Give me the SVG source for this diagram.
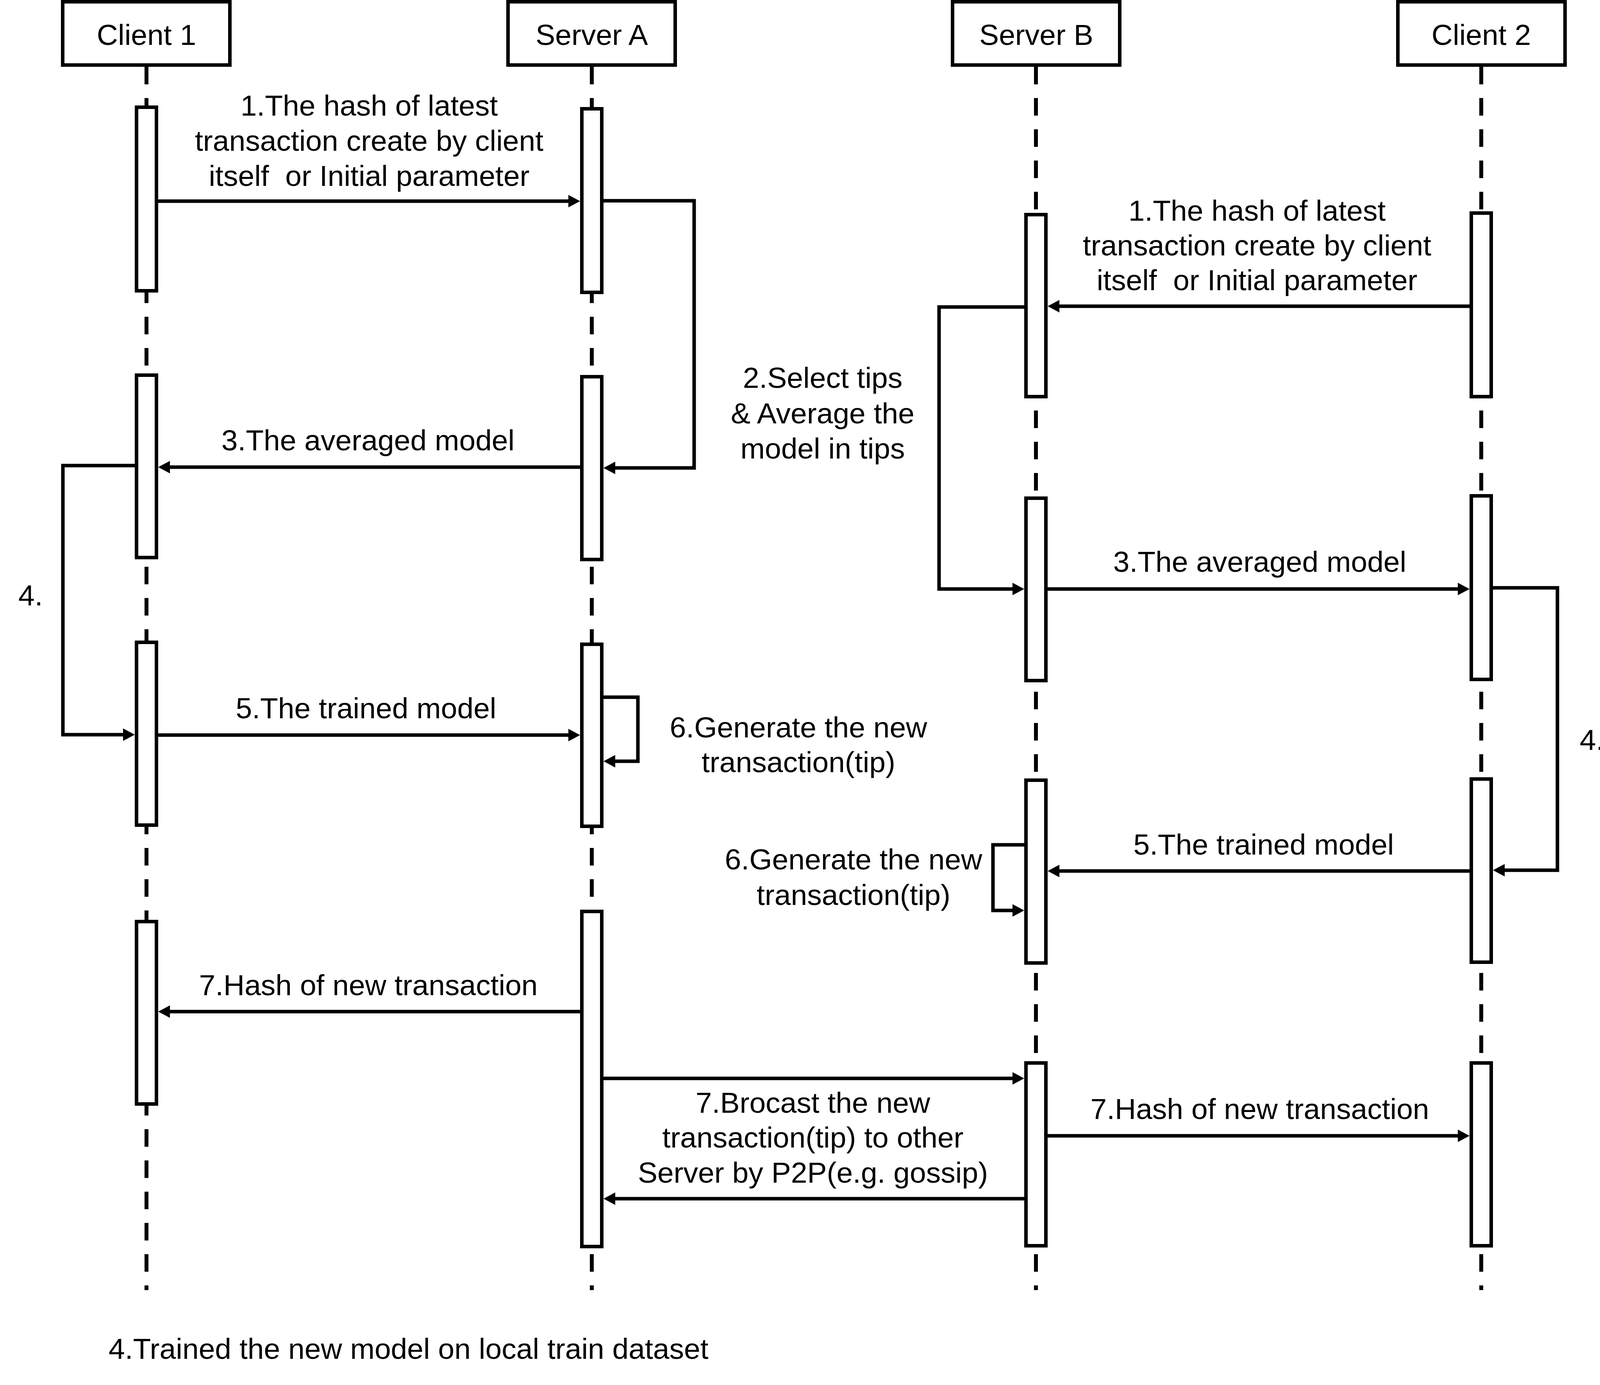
<svg xmlns="http://www.w3.org/2000/svg" width="4152" height="3546" viewBox="0 0 4152 3546">
<style>
.bg{fill:#fff}
.hd{fill:#fff;stroke:#000;stroke-width:9}
.act{fill:#fff;stroke:#000;stroke-width:9}
.life{stroke:#000;stroke-width:10;stroke-dasharray:45 35;fill:none}
.con{fill:none;stroke:#000;stroke-width:9;stroke-linejoin:miter;marker-end:url(#arr)}
.t{font-family:"Liberation Sans",Arial,sans-serif;font-size:75px;fill:#000;text-anchor:middle;white-space:pre}
.ts{text-anchor:start}
</style>
<defs>
<marker id="arr" markerUnits="userSpaceOnUse" markerWidth="30" markerHeight="32" refX="10" refY="16" orient="auto" viewBox="0 0 30 32">
<path d="M0,0 L30,16 L0,32 Z" fill="#000"/>
</marker>
</defs>
<rect class="bg" x="0" y="0" width="4152" height="3546"/>

<g id="lifelines">
<line class="life" x1="375" y1="171" x2="375" y2="3303"/>
<line class="life" x1="1515" y1="171" x2="1515" y2="3303"/>
<line class="life" x1="2652" y1="171" x2="2652" y2="3303"/>
<line class="life" x1="3792" y1="171" x2="3792" y2="3303"/>
</g>

<g id="client1">
<rect class="hd" x="160.5" y="4.5" width="428" height="162"/>
<text class="t" x="375" y="115">Client 1</text>
<rect class="act" x="349.5" y="274.5" width="51" height="470"/>
<rect class="act" x="349.5" y="960.5" width="51" height="467"/>
<rect class="act" x="349.5" y="1644.5" width="51" height="468"/>
<rect class="act" x="349.5" y="2359.5" width="51" height="467"/>
</g>

<g id="serverA">
<rect class="hd" x="1300.5" y="4.5" width="428" height="162"/>
<text class="t" x="1515" y="115">Server A</text>
<rect class="act" x="1489.5" y="278.5" width="51" height="470"/>
<rect class="act" x="1489.5" y="964.5" width="51" height="468"/>
<rect class="act" x="1489.5" y="1649.5" width="51" height="466"/>
<rect class="act" x="1489.5" y="2333.5" width="51" height="858"/>
</g>

<g id="serverB">
<rect class="hd" x="2438.5" y="4.5" width="428" height="162"/>
<text class="t" x="2653" y="115">Server B</text>
<rect class="act" x="2626.5" y="549.5" width="51" height="466"/>
<rect class="act" x="2626.5" y="1275.5" width="51" height="467"/>
<rect class="act" x="2626.5" y="1997.5" width="51" height="468"/>
<rect class="act" x="2626.5" y="2721.5" width="51" height="468"/>
</g>

<g id="client2">
<rect class="hd" x="3578.5" y="4.5" width="428" height="162"/>
<text class="t" x="3792" y="115">Client 2</text>
<rect class="act" x="3766.5" y="545.5" width="51" height="470"/>
<rect class="act" x="3766.5" y="1269.5" width="51" height="470"/>
<rect class="act" x="3766.5" y="1994.5" width="51" height="469"/>
<rect class="act" x="3766.5" y="2721.5" width="51" height="468"/>
</g>

<g id="connectors">
<path class="con" d="M405,515 H1465"/>
<path class="con" d="M1545,514 H1777 V1198 H1565"/>
<path class="con" d="M1485,1196 H425"/>
<path class="con" d="M345,1192 H161 V1881 H325"/>
<path class="con" d="M405,1882 H1465"/>
<path class="con" d="M1545,1785 H1633 V1949 H1565"/>
<path class="con" d="M1485,2590 H425"/>
<path class="con" d="M1545,2761 H2602"/>
<path class="con" d="M2622,3069 H1565"/>
<path class="con" d="M3762,784 H2702"/>
<path class="con" d="M2622,786 H2404 V1508 H2602"/>
<path class="con" d="M2682,1508 H3742"/>
<path class="con" d="M3822,1505 H3987 V2228 H3842"/>
<path class="con" d="M3762,2230 H2702"/>
<path class="con" d="M2622,2163 H2542 V2331 H2602"/>
<path class="con" d="M2682,2908 H3742"/>
</g>

<g id="labels">
<text class="t" x="945" y="296">1.The hash of latest</text>
<text class="t" x="945" y="386">transaction create by client</text>
<text class="t" x="945" y="476">itself  or Initial parameter</text>

<text class="t" x="3218" y="565">1.The hash of latest</text>
<text class="t" x="3218" y="654">transaction create by client</text>
<text class="t" x="3218" y="743">itself  or Initial parameter</text>

<text class="t" x="2106" y="993">2.Select tips</text>
<text class="t" x="2106" y="1084">&amp; Average the</text>
<text class="t" x="2106" y="1174">model in tips</text>

<text class="t" x="942" y="1153">3.The averaged model</text>
<text class="t" x="3225" y="1464">3.The averaged model</text>

<text class="t ts" x="47" y="1550">4.</text>
<text class="t ts" x="4044" y="1920">4.</text>

<text class="t" x="937" y="1839">5.The trained model</text>
<text class="t" x="3235" y="2188">5.The trained model</text>

<text class="t" x="2044" y="1888">6.Generate the new</text>
<text class="t" x="2044" y="1977">transaction(tip)</text>

<text class="t" x="2185" y="2226">6.Generate the new</text>
<text class="t" x="2185" y="2317">transaction(tip)</text>

<text class="t" x="943" y="2548">7.Hash of new transaction</text>
<text class="t" x="3225" y="2865">7.Hash of new transaction</text>

<text class="t" x="2081" y="2849">7.Brocast the new</text>
<text class="t" x="2081" y="2938">transaction(tip) to other</text>
<text class="t" x="2081" y="3028">Server by P2P(e.g. gossip)</text>

<text class="t ts" x="278" y="3479">4.Trained the new model on local train dataset</text>
</g>
</svg>
